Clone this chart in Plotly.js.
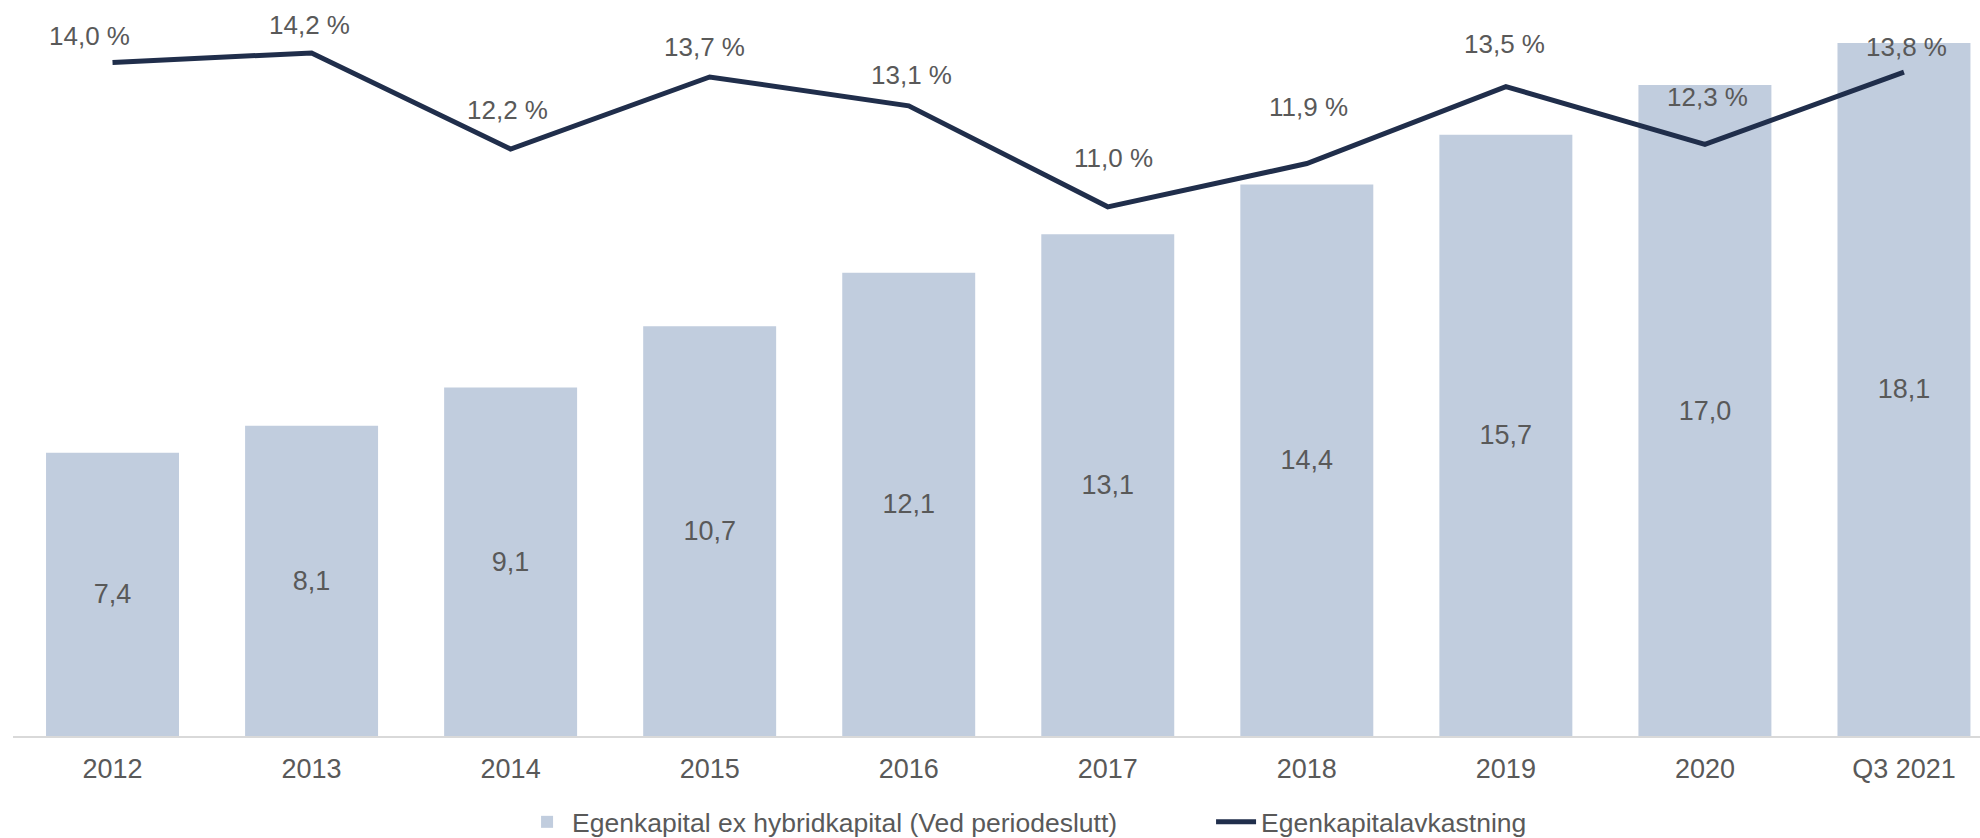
<!DOCTYPE html>
<html>
<head>
<meta charset="utf-8">
<script src="https://cdn.plot.ly/plotly-3.0.1.min.js"></script>
<style>
  html, body { margin: 0; padding: 0; background: #ffffff; }
  #chart { width: 1980px; height: 838px; }
</style>
</head>
<body>
<div id="chart"></div>
<script>
// ---- data ----
const categories = ["2012", "2013", "2014", "2015", "2016", "2017", "2018", "2019", "2020", "Q3 2021"];
const equityValues = [7.4, 8.1, 9.1, 10.7, 12.1, 13.1, 14.4, 15.7, 17.0, 18.1];
const roeValues = [14.0, 14.2, 12.2, 13.7, 13.1, 11.0, 11.9, 13.5, 12.3, 13.8];
const barName = "Egenkapital ex hybridkapital (Ved periodeslutt)";
const lineName = "Egenkapitalavkastning";

// ---- label placement (pixel nudges for the line's data labels) ----
const labelYShift = [27, 28, 39, 30, 31, 49, 57, 43, 47, 25];
const labelXShift = [-23, -2, -3, -5, 3, 6, 2, -1, 3, 3];

const textGrey = "#595959";
const fontFam = "'Liberation Sans', Arial, sans-serif";

const barTrace = {
  type: "bar",
  name: barName,
  x: categories,
  y: equityValues,
  marker: { color: "#C1CDDE", line: { width: 0 } },
  texttemplate: "%{y:.1f}",
  textposition: "inside",
  insidetextanchor: "middle",
  textfont: { family: fontFam, size: 27, color: textGrey },
  hoverinfo: "skip"
};

const lineTrace = {
  type: "scatter",
  mode: "lines",
  name: lineName,
  x: categories,
  y: roeValues,
  yaxis: "y2",
  line: { color: "#202E4B", width: 5 },
  hoverinfo: "skip"
};

// category axis: annotations are placed by category index (names like "2012" would read as numbers)
const annotations = categories.map((c, i) => ({
  x: i,
  y: roeValues[i],
  xref: "x",
  yref: "y2",
  text: roeValues[i].toFixed(1).replace(".", ",") + " %",
  showarrow: false,
  xanchor: "center",
  yanchor: "middle",
  xshift: labelXShift[i],
  yshift: labelYShift[i],
  font: { family: fontFam, size: 26, color: textGrey }
}));

const layout = {
  width: 1980,
  height: 838,
  margin: { l: 13, r: 0, t: 0, b: 102, pad: 0, autoexpand: false },
  paper_bgcolor: "#ffffff",
  plot_bgcolor: "#ffffff",
  separators: ", ",
  bargap: 0.332,
  showlegend: true,
  legend: {
    orientation: "h",
    x: 0.2588,
    xanchor: "left",
    y: -0.117,
    yanchor: "middle",
    font: { family: fontFam, size: 26.5, color: textGrey },
    bgcolor: "rgba(0,0,0,0)",
    traceorder: "normal",
    itemwidth: 40,
    entrywidth: 634
  },
  xaxis: {
    type: "category",
    range: [-0.5, 9.382],
    showline: true,
    linecolor: "#D9D9D9",
    linewidth: 2,
    ticks: "",
    showgrid: false,
    zeroline: false,
    tickfont: { family: fontFam, size: 27, color: textGrey },
    ticklabelstandoff: 8
  },
  yaxis: {
    range: [0, 19.22],
    visible: false,
    showgrid: false,
    zeroline: false
  },
  yaxis2: {
    range: [0, 15.30],
    overlaying: "y",
    side: "right",
    visible: false,
    showgrid: false,
    zeroline: false
  },
  annotations: annotations
};

Plotly.newPlot("chart", [barTrace, lineTrace], layout, { displayModeBar: false, staticPlot: true });
</script>
</body>
</html>
